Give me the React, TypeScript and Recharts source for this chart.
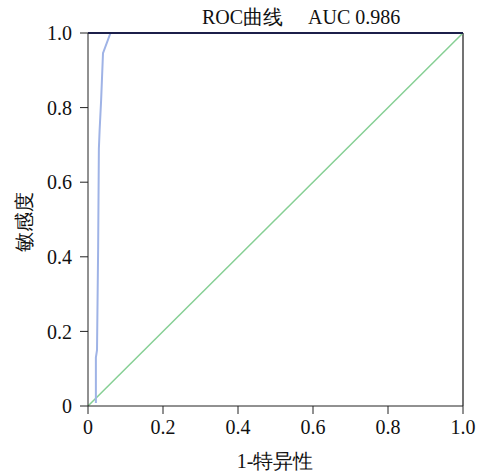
import React from 'react';
import { LineChart, Line, XAxis, YAxis, ReferenceLine } from 'recharts';

// ROC curve points
const fpr = [0.021, 0.021, 0.024, 0.027, 0.029, 0.031, 0.035, 0.040, 0.060, 1.0];
const tpr = [0.008, 0.13, 0.15, 0.42, 0.69, 0.74, 0.82, 0.946, 1.0, 1.0];
const diagX = [0, 1];
const diagY = [0, 1];
const ticks = [0, 0.2, 0.4, 0.6, 0.8, 1.0];
const title = 'ROC曲线\u00a0\u00a0\u00a0\u00a0\u00a0AUC 0.986';
const xTitle = '1-特异性';
const yTitle = '敏感度';

const rocData = fpr.map((x, i) => ({ x, y: tpr[i] }));
const diagData = diagX.map((x, i) => ({ x, y: diagY[i] }));

const font = '"Liberation Serif", "Times New Roman", serif';
const fmt = (v: number) => (v === 0 ? '0' : v.toFixed(1));

export default function App() {
  return (
    <div style={{ position: 'absolute', left: 0, top: 0, width: 481, height: 475, background: '#fff', fontFamily: font }}>
      <LineChart width={481} height={475} margin={{ top: 33, right: 18, bottom: 39, left: 28 }}>
        <XAxis
          type="number"
          dataKey="x"
          domain={[0, 1]}
          ticks={ticks}
          tickFormatter={fmt}
          tickSize={8}
          tickMargin={6}
          height={30}
          stroke="#222"
          tick={{ fill: '#111', fontSize: 20, fontFamily: font }}
          allowDataOverflow
        />
        <YAxis
          type="number"
          dataKey="y"
          domain={[0, 1]}
          ticks={ticks}
          tickFormatter={fmt}
          width={60}
          tickSize={8}
          tickMargin={8}
          stroke="#222"
          tick={{ fill: '#111', fontSize: 20, fontFamily: font }}
          allowDataOverflow
        />
        <ReferenceLine x={1} stroke="#444" strokeWidth={1.5} />
        <Line data={diagData} dataKey="y" stroke="#86cf94" strokeWidth={1.5} dot={false} isAnimationActive={false} />
        <Line data={rocData} dataKey="y" stroke="#9fb3e6" strokeWidth={2} dot={false} isAnimationActive={false} />
        <ReferenceLine y={1} stroke="#1c1f4a" strokeWidth={2} />
      </LineChart>
      <div style={{ position: 'absolute', left: 202, top: 4, fontSize: 20, color: '#111', whiteSpace: 'nowrap', lineHeight: '26px' }}>
        {title}
      </div>
      <div style={{ position: 'absolute', left: 175, width: 200, top: 448, textAlign: 'center', fontSize: 20, color: '#111', lineHeight: '26px' }}>
        {xTitle}
      </div>
      <div style={{ position: 'absolute', left: 24, top: 222, transform: 'translate(-50%, -50%) rotate(-90deg)', fontSize: 20, color: '#111', whiteSpace: 'nowrap', lineHeight: '24px' }}>
        {yTitle}
      </div>
    </div>
  );
}
